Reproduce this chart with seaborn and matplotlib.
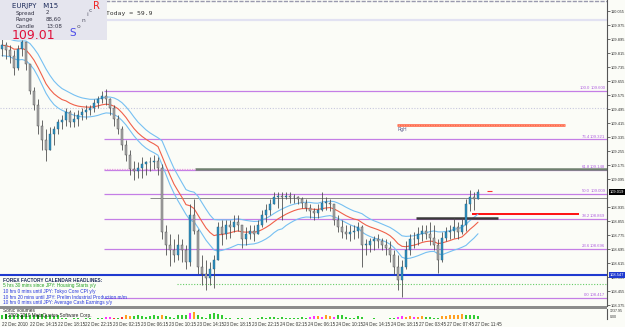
import numpy as np
import pandas as pd
import matplotlib
matplotlib.use("Agg")
import matplotlib.pyplot as plt
import seaborn as sns
from matplotlib.patches import Rectangle
from matplotlib.transforms import blended_transform_factory

sns.set_style("white")
plt.rcParams['font.family'] = ['DejaVu Sans']
SMALL = ['Liberation Sans', 'DejaVu Sans']

# ---------------- data ----------------
symbol = "EURJPY"
timeframe = "M15"
first_open = 109.84
highs = [109.90, 109.88, 109.86, 109.83, 109.86, 109.89, 109.86, 109.75, 109.62, 109.55,
         109.43, 109.38, 109.39, 109.40, 109.44, 109.46, 109.50, 109.49, 109.48, 109.49,
         109.50, 109.52, 109.52, 109.55, 109.57, 109.60, 109.61, 109.56, 109.52, 109.46,
         109.40, 109.32, 109.26, 109.20, 109.19, 109.22, 109.20, 109.22, 109.23, 109.22,
         109.18, 108.83, 108.78, 108.75, 108.78, 108.75, 108.72, 108.95, 108.98, 108.81,
         108.66, 108.63, 108.62, 108.66, 108.85, 108.86, 108.86, 108.86, 108.89, 108.89,
         108.83, 108.82, 108.83, 108.83, 108.86, 108.92, 108.95, 108.98, 109.02, 109.02,
         109.02, 109.02, 109.02, 109.01, 109.00, 108.99, 108.98, 108.95, 108.93, 108.95,
         109.02, 108.99, 108.98, 108.95, 108.89, 108.86, 108.83, 108.83, 108.83, 108.85,
         108.83, 108.75, 108.76, 108.77, 108.78, 108.76, 108.75, 108.74, 108.69, 108.66,
         108.63, 108.74, 108.78, 108.79, 108.82, 108.83, 108.83, 108.85, 108.83, 108.75,
         108.79, 108.82, 108.83, 108.87, 108.85, 108.87, 108.98, 109.03, 109.02, 109.04]
lows = [109.80, 109.78, 109.76, 109.69, 109.72, 109.80, 109.72, 109.58, 109.49, 109.35,
        109.26, 109.20, 109.26, 109.29, 109.35, 109.38, 109.40, 109.39, 109.39, 109.40,
        109.43, 109.44, 109.46, 109.48, 109.50, 109.53, 109.52, 109.46, 109.40, 109.35,
        109.26, 109.20, 109.12, 109.09, 109.10, 109.10, 109.12, 109.14, 109.15, 109.12,
        108.75, 108.66, 108.60, 108.62, 108.63, 108.62, 108.58, 108.60, 108.78, 108.55,
        108.49, 108.46, 108.49, 108.47, 108.63, 108.72, 108.75, 108.76, 108.79, 108.80,
        108.70, 108.72, 108.75, 108.74, 108.78, 108.82, 108.85, 108.89, 108.95, 108.93,
        108.86, 108.98, 108.96, 108.96, 108.95, 108.93, 108.91, 108.87, 108.86, 108.87,
        108.91, 108.92, 108.91, 108.83, 108.79, 108.76, 108.75, 108.74, 108.75, 108.76,
        108.59, 108.66, 108.68, 108.69, 108.70, 108.69, 108.66, 108.62, 108.55, 108.46,
        108.42, 108.58, 108.66, 108.70, 108.72, 108.74, 108.75, 108.72, 108.69, 108.56,
        108.62, 108.74, 108.75, 108.76, 108.75, 108.78, 108.80, 108.91, 108.92, 108.98]
closes = [109.86, 109.83, 109.80, 109.73, 109.84, 109.88, 109.75, 109.60, 109.52, 109.40,
          109.32, 109.26, 109.35, 109.38, 109.42, 109.43, 109.48, 109.42, 109.44, 109.46,
          109.48, 109.49, 109.50, 109.53, 109.55, 109.57, 109.55, 109.50, 109.44, 109.38,
          109.29, 109.23, 109.15, 109.14, 109.16, 109.18, 109.19, 109.19, 109.20, 109.16,
          108.79, 108.72, 108.69, 108.66, 108.72, 108.69, 108.62, 108.89, 108.80, 108.59,
          108.55, 108.53, 108.58, 108.63, 108.82, 108.78, 108.83, 108.82, 108.85, 108.83,
          108.75, 108.78, 108.80, 108.78, 108.83, 108.89, 108.92, 108.95, 108.99, 109.00,
          108.99, 109.00, 108.99, 108.99, 108.98, 108.96, 108.93, 108.91, 108.90, 108.92,
          108.96, 108.96, 108.95, 108.86, 108.82, 108.79, 108.78, 108.79, 108.80, 108.82,
          108.72, 108.72, 108.74, 108.75, 108.74, 108.72, 108.70, 108.66, 108.59, 108.52,
          108.59, 108.69, 108.75, 108.75, 108.78, 108.80, 108.78, 108.76, 108.72, 108.63,
          108.76, 108.79, 108.80, 108.82, 108.79, 108.83, 108.95, 108.99, 108.98, 109.019]
volumes = [550, 660, 550, 440, 660, 550, 660, 550, 440, 550, 660, 550, 440, 330, 440,
           110, 110, 0, 110, 110, 0, 110, 110, 0, 110, 110, 220, 220, 110,
           110, 220, 440, 330, 330, 440, 330, 220, 330, 440, 330,
           440, 330, 220, 110, 550, 440, 550, 770, 880, 550, 220, 110,
           660, 770, 660, 550, 110, 110, 0, 110, 110,
           0, 110, 0, 110, 220, 110, 220, 220, 110, 220, 110, 110,
           110, 110, 220, 110, 220, 330, 330, 220, 440, 330, 220, 440,
           440, 220, 110, 110, 330, 220, 0, 0, 110, 0, 0, 0, 110, 110,
           220, 330, 220, 330, 220, 220, 330, 220, 220, 110, 110,
           330, 330, 440, 440, 550, 660, 440, 550, 440, 330]
vol_codes = ("gdgggdgggdggggg" + "gggggggggggmmr" + "gro" + "o" + "gggg" + "ggg" +
             "oggg" + "ggg" + "mog" + "gg" + "gggg" + "ggggg" + "ggggggg" + "ggggg" +
             "gggg" + "mmomoomg" + "ggg" + "ggg" + "gggggggg" + "mmoomoogg" + "gg" +
             "oooooogggg")
date_labels = ["22 Dec 2010", "22 Dec 14:15", "22 Dec 18:15", "22 Dec 22:15",
               "23 Dec 02:15", "23 Dec 06:15", "23 Dec 10:15", "23 Dec 14:15",
               "23 Dec 18:15", "23 Dec 22:15", "24 Dec 02:15", "24 Dec 06:15",
               "24 Dec 10:15", "24 Dec 14:15", "24 Dec 18:15", "27 Dec 03:45",
               "27 Dec 07:45", "27 Dec 11:45"]
fib_ratios = [0.0, 23.6, 38.2, 50.0, 61.8, 76.4, 100.0]
fib_prices = [108.417, 108.696, 108.869, 109.009, 109.148, 109.321, 109.600]
price_ticks = [110.055, 109.975, 109.895, 109.815, 109.735, 109.655, 109.575, 109.495,
               109.415, 109.335, 109.255, 109.175, 109.095, 108.935, 108.855,
               108.775, 108.695, 108.615, 108.535, 108.455, 108.375]
blue_level = 108.547
green_level = 108.495
rgh_level = 109.404
red_level = 108.895
black_level = 108.872
gray_level = 109.150
gray_level2 = 109.000
today_open = 109.501
top_level1 = 110.112
top_level2 = 110.004
headlines = ["FOREX FACTORY CALENDAR HEADLINES:",
             "5 hrs 30 mins since JPY: Housing Starts y/y",
             "10 hrs 0 mins until JPY: Tokyo Core CPI y/y",
             "10 hrs 20 mins until JPY: Prelim Industrial Production m/m",
             "10 hrs 0 mins until JPY: Average Cash Earnings y/y"]
headline_colors = ["#1c2a5a", "#22a022", "#2233dd", "#2233dd", "#2233dd"]

# ---------------- figure ----------------
W, H = 625, 327
BG = "#fbfcf7"
fig = plt.figure(figsize=(W / 100, H / 100), dpi=100, facecolor=BG)

def fx(px):
    return px / W

def fy(py):
    return 1 - py / H

main_right = 607
ax = fig.add_axes([0, fy(306), fx(main_right), 306 / H])
vax = fig.add_axes([0, fy(319), fx(main_right), 10 / H])
for a in (ax, vax):
    a.set_facecolor(BG)
    for s in ("left", "top", "bottom"):
        a.spines[s].set_visible(False)
    a.spines["right"].set_color("#555555")
    a.spines["right"].set_linewidth(0.8)

n = len(closes)
x = np.arange(n)
c = np.array(closes)
o = np.array([first_open] + closes[:-1])
h = np.maximum.reduce([np.array(highs), o, c])
l = np.minimum.reduce([np.array(lows), o, c])
xmax = (main_right - 2) / 4
ax.set_xlim(-0.5, xmax)
ax.set_ylim(110.118 - 306 / 175, 110.118)
vax.set_xlim(-0.5, xmax)
vax.set_ylim(0, 1240)

# horizontal objects
ax.axhline(top_level1, color="#9a9aae", lw=1.0, ls=(0, (3, 1)))
ax.axhline(top_level2, color="#e2e2f2", lw=1.6)
ax.axhline(today_open, color="#c8c8de", lw=0.8, ls=(0, (1, 1.5)))
bt = blended_transform_factory(ax.transAxes, ax.transData)
fib_start = 25.5
for r, p in zip(fib_ratios, fib_prices):
    ax.hlines(p, fib_start, xmax, color="#c47ee6", lw=0.9, zorder=2)
    ax.text(590 / main_right, p + 0.004, f"{r:.1f}", transform=bt, family=SMALL,
            fontsize=3.1, color="#b060e0", ha="right", va="bottom")
    ax.text(0.997, p + 0.004, f"{p:.3f}", transform=bt, family=SMALL,
            fontsize=3.1, color="#b060e0", ha="right", va="bottom")
ax.hlines(gray_level, 48.25, xmax, color="#6f806f", lw=1.8, zorder=2)
ax.hlines(gray_level, fib_start, 48.25, color="#e8a0e0", lw=0.9, ls=(0, (1, 1)), zorder=2)
ax.hlines(gray_level2 - 0.012, 37, xmax, color="#8a8a8a", lw=0.7, zorder=2)
ax.axhline(blue_level, color="#1f3ad0", lw=1.5, zorder=2)
ax.hlines(green_level, 43.75, xmax, color="#66cc66", lw=0.8, ls=(0, (1, 1.5)), zorder=2)
ax.hlines(rgh_level, 98.75, 140.75, color="#ff5a3c", lw=1.8, zorder=2)
ax.hlines(rgh_level, 98.75, 140.75, color="#ffb090", lw=0.6, ls=(0, (1, 1)), zorder=2)
ax.text(98.9, rgh_level - 0.012, "RgH", fontsize=3.4, color="#5a5a8a", va="top", family=SMALL)
ax.hlines(red_level, 117.5, 144.25, color="#ff1010", lw=1.4, zorder=2)
ax.hlines(black_level, 103.5, 124, color="#3a3a3a", lw=1.8, zorder=4)

# moving averages (Sonic R dragon)
ema_c = pd.Series(c).ewm(span=17, adjust=False).mean()
ema_h = pd.Series(h).ewm(span=17, adjust=False).mean()
ema_l = pd.Series(l).ewm(span=17, adjust=False).mean()
sns.lineplot(x=x, y=ema_h, color="#76c0f2", lw=0.8, ax=ax, zorder=3)
sns.lineplot(x=x, y=ema_l, color="#76c0f2", lw=0.8, ax=ax, zorder=3)
sns.lineplot(x=x, y=ema_c, color="#f0604a", lw=0.8, ax=ax, zorder=3)

# candles
ax.vlines(x, l, h, color="#505050", lw=0.6, zorder=4)
up = c >= o
bot = np.minimum(o, c)
bh = np.maximum(np.abs(c - o), 0.005)
ax.bar(x[up], bh[up], bottom=bot[up], width=0.55, color="#2e8fbf", edgecolor="#24607e", lw=0.3, zorder=5)
ax.bar(x[~up], bh[~up], bottom=bot[~up], width=0.55, color="#a9a9a9", edgecolor="#4a4a4a", lw=0.3, zorder=5)
ax.hlines(c[-1] + 0.01, n + 1.2, n + 2.5, color="#ff3030", lw=0.8, zorder=5)

# right price axis
ax.yaxis.tick_right()
ax.set_yticks(price_ticks)
ax.set_yticklabels([f"{p:.3f}" for p in price_ticks], family=SMALL)
ax.tick_params(axis="y", length=2, width=0.5, labelsize=2.9, pad=0.6, colors="#333333")
ax.set_xticks([])
ax.set_xlabel("")
ax.set_ylabel("")
ax.text(1.005, c[-1], f"{c[-1]:.3f}", transform=bt, fontsize=2.9, color="white", va="center", ha="left",
        family=SMALL, bbox=dict(facecolor="black", edgecolor="none", pad=0.6), zorder=10, clip_on=False)
ax.text(1.005, blue_level, f"{blue_level:.3f}", transform=bt, fontsize=2.9, color="white", va="center",
        ha="left", family=SMALL, bbox=dict(facecolor="#1f3ad0", edgecolor="none", pad=0.6), zorder=10,
        clip_on=False)

# volume window
cmap = {"g": "#33cc33", "d": "#0a8a0a", "o": "#ffa020", "m": "#ff33ff", "r": "#ff3030"}
vax.bar(x, volumes, width=0.6, color=[cmap[k] for k in vol_codes], lw=0)
vax.set_yticks([])
vax.set_xticks(np.arange(len(date_labels)) * 6.95)
vax.set_xticklabels(date_labels, ha="left", family=SMALL)
vax.tick_params(axis="x", length=1.5, width=0.5, labelsize=3.25, pad=0.4, colors="#333333", direction="out")
vax.spines["bottom"].set_visible(False)
vbt = vax.transAxes
vax.text(1.005, 0.75, "1237.95", transform=vbt, fontsize=2.6, color="#333333", va="center", ha="left",
         clip_on=False, family=SMALL)
vax.text(1.005, 0.15, "0.00", transform=vbt, fontsize=2.6, color="#333333", va="center", ha="left",
         clip_on=False, family=SMALL)
vax.text(3 / main_right, 0.8, "Sonic Volumes", transform=vbt, fontsize=3.4, color="#222222", va="center",
         family=SMALL)
vax.text(8 / main_right, 0.35, "2001-2010 MetaQuotes Software Corp.", transform=vbt, fontsize=3.4,
         color="#222222", va="center", family=SMALL)

# separator between windows
fig.add_artist(Rectangle((0, fy(309)), fx(main_right), 3 / H, transform=fig.transFigure,
                         facecolor="#8c8c8c", edgecolor="none"))

# info box
fig.add_artist(Rectangle((0, fy(40)), fx(107), 40 / H, transform=fig.transFigure,
                         facecolor="#e5e5ee", edgecolor="none", zorder=5))
fig.text(fx(12), fy(6), f"{symbol}   {timeframe}", fontsize=5.0, color="#1c2a5a", va="center", zorder=6)
for yy, lab, val in [(13, "Spread", "2"), (19.5, "Range", "88,60"), (26, "Candle", "13:08")]:
    fig.text(fx(16), fy(yy), lab, fontsize=4.0, color="#333344", va="center", zorder=6)
    fig.text(fx(46), fy(yy), val, fontsize=4.0, color="#333344", va="center", zorder=6)
fig.text(fx(12), fy(35.5), "109.01", fontsize=9, color="#e0103a", va="center", zorder=6)
fig.text(fx(93), fy(6), "R", fontsize=7, color="#ee2020", va="center", zorder=6)
fig.text(fx(69), fy(33), "S", fontsize=7.5, color="#4a4ae8", va="center", zorder=6)
for ch, px_, py_ in [("o", 77, 27), ("n", 82, 20.5), ("i", 86, 15), ("c", 89, 10)]:
    fig.text(fx(px_), fy(py_), ch, fontsize=4.3, color="#555566", va="center", zorder=6)
fig.text(fx(106), fy(13), "Today = 59.9", fontsize=4.6, family="DejaVu Sans Mono", color="#333333", va="center")

# headlines
for k, (txt, col) in enumerate(zip(headlines, headline_colors)):
    fig.text(fx(3), fy(280 + k * 5.7), txt, fontsize=3.4, color=col, va="center", family=SMALL,
             fontweight="bold" if k == 0 else "normal")

fig.savefig("out.png", dpi=100, facecolor=BG)
